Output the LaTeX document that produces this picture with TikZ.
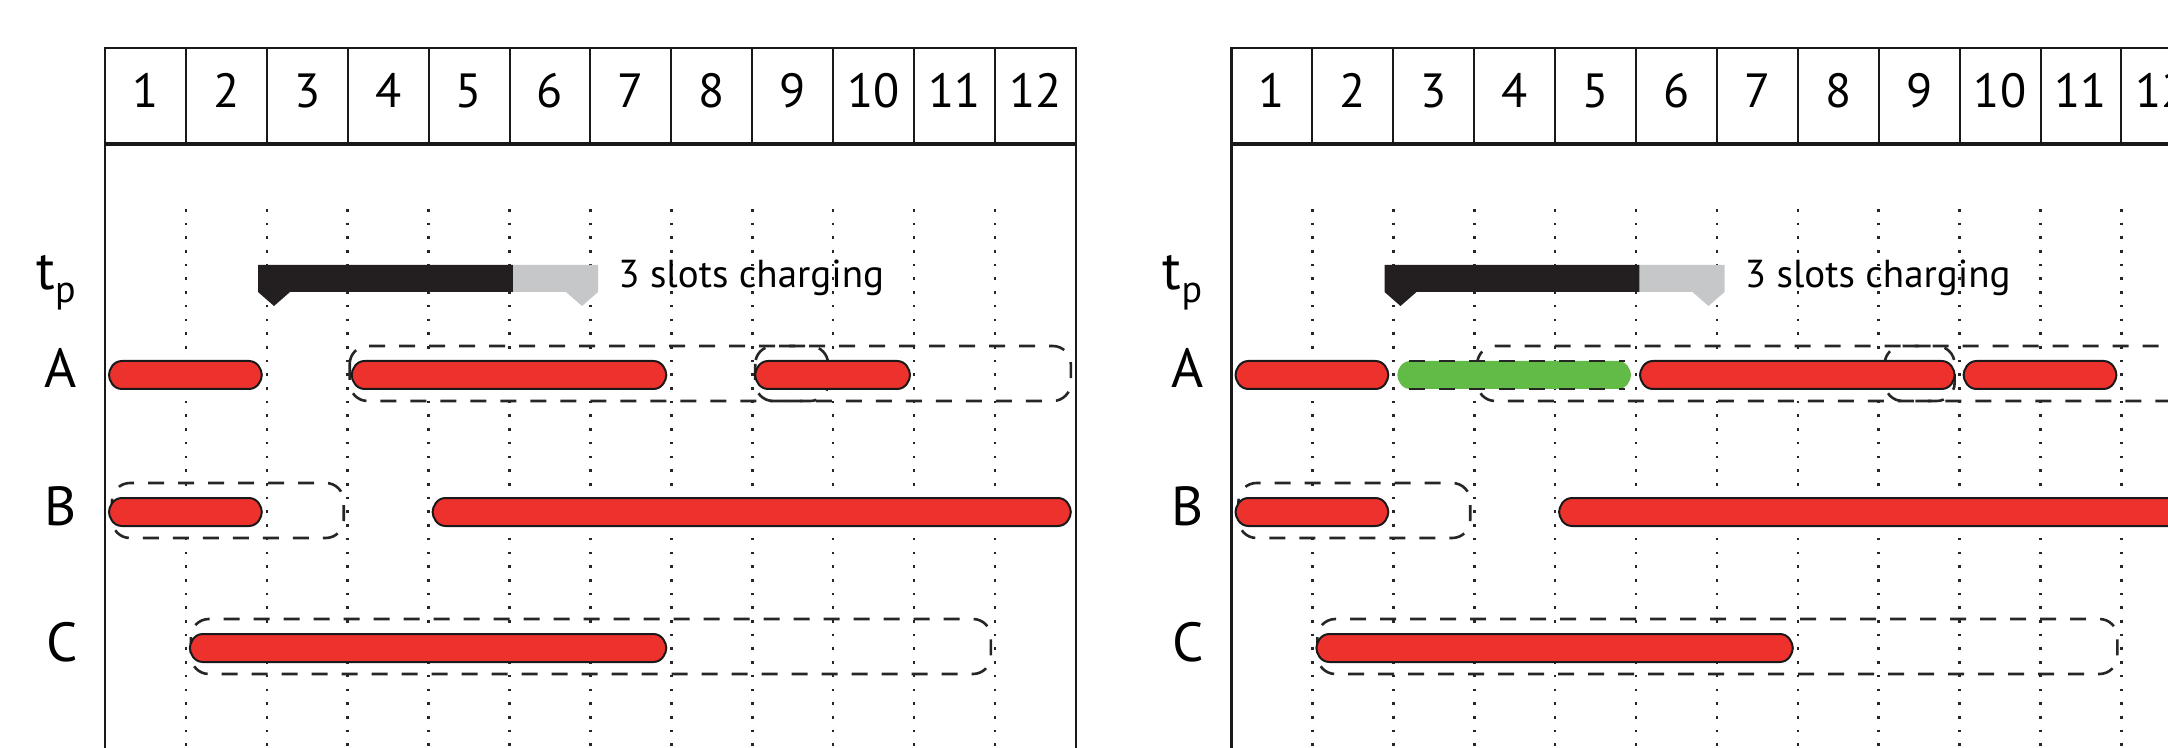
\documentclass[tikz,border=0pt]{standalone}
\usepackage{fontspec}
\setmainfont{PT Sans}
\definecolor{barred}{RGB}{237,50,46}
\definecolor{bargreen}{RGB}{98,187,70}
\definecolor{barblack}{RGB}{35,31,32}
\definecolor{bargray}{RGB}{198,199,200}
\newcommand\pill[4][barred]{%
  \pgfmathsetmacro\pa{#2}\pgfmathsetmacro\pb{#3}\pgfmathsetmacro\pc{#4}%
  \filldraw[pillstyle,fill=#1] ({\pa+13},{\pc-14}) -- ({\pb-13},{\pc-14})
    .. controls ({\pb-4},{\pc-14}) and (\pb,{\pc-5}) .. (\pb,\pc)
    .. controls (\pb,{\pc+5}) and ({\pb-4},{\pc+14}) .. ({\pb-13},{\pc+14})
    -- ({\pa+13},{\pc+14})
    .. controls ({\pa+4},{\pc+14}) and (\pa,{\pc+5}) .. (\pa,\pc)
    .. controls (\pa,{\pc-5}) and ({\pa+4},{\pc-14}) .. ({\pa+13},{\pc-14}) -- cycle;}
\newcommand\gpill[3]{%
  \pgfmathsetmacro\pa{#1}\pgfmathsetmacro\pb{#2}\pgfmathsetmacro\pc{#3}%
  \fill[bargreen] ({\pa+13},{\pc-14}) -- ({\pb-13},{\pc-14})
    .. controls ({\pb-4},{\pc-14}) and (\pb,{\pc-5}) .. (\pb,\pc)
    .. controls (\pb,{\pc+5}) and ({\pb-4},{\pc+14}) .. ({\pb-13},{\pc+14})
    -- ({\pa+13},{\pc+14})
    .. controls ({\pa+4},{\pc+14}) and (\pa,{\pc+5}) .. (\pa,\pc)
    .. controls (\pa,{\pc-5}) and ({\pa+4},{\pc-14}) .. ({\pa+13},{\pc-14}) -- cycle;
  \draw[gdash] ({\pa+12},{\pc-14}) -- ({\pb-6},{\pc-14});
  \draw[gdash] ({\pa+12},{\pc+14}) -- ({\pb-6},{\pc+14});}
\begin{document}
\begin{tikzpicture}[x=0.5pt,y=-0.5pt,
  frame/.style={line width=1.2pt, draw=black!90},
  hdr/.style={line width=1.7pt, draw=black!90},
  sep/.style={line width=1pt, draw=black!90},
  dots/.style={line width=1.3pt, dash pattern=on 1.3pt off 5.55pt, draw=black!85},
  dbox/.style={draw=black!85, line width=1.3pt, dash pattern=on 8pt off 7pt, rounded corners=9pt},
  gdash/.style={draw=black!85, line width=1.3pt, dash pattern=on 8pt off 7pt},
  pillstyle/.style={draw=black!90, line width=1pt},
  lab/.style={font=\fontsize{27.5}{30}\selectfont, anchor=base, inner sep=0pt},
  num/.style={font=\fontsize{24}{26}\selectfont, anchor=base, inner sep=0pt},
  note/.style={font=\fontsize{19.5}{21}\selectfont, anchor=base west, inner sep=0pt},
]
\useasboundingbox (0,0) rectangle (2168,748);
\clip (0,0) rectangle (2168,748);
\def\W{80.9}
\foreach \X/\P in {105/L,1231.5/R} {
  \foreach \k in {1,...,11} \draw[dots] ({\X+\k*\W},209) -- ({\X+\k*\W},748);
  \draw[frame] (\X,748) -- (\X,48) -- ({\X+12*\W},48) -- ({\X+12*\W},748);
  \draw[hdr] (\X,144) -- ({\X+12*\W},144);
  \foreach \k in {1,...,11} \draw[sep] ({\X+\k*\W},48) -- ({\X+\k*\W},144);
  \foreach \k in {1,...,12} \node[num] (num\P\k) at ({\X+(\k-0.5)*\W},108) {\k};
  \node[lab] (labA\P) at ({\X-44},388) {A};
  \node[lab] (labB\P) at ({\X-44},525) {B};
  \node[lab] (labC\P) at ({\X-43},661) {C};
  \node[anchor=base west, inner sep=0pt, font=\fontsize{27.5}{30}\selectfont] (tp\P) at ({\X-69},290)
    {t\raisebox{-6.5pt}{\fontsize{19}{20}\selectfont p}};
  \fill[barblack] ({\X+153},265) -- ({\X+408},265) -- ({\X+408},292) -- ({\X+185},292) -- ({\X+169},306) -- ({\X+153},292) -- cycle;
  \fill[bargray] ({\X+408},265) -- ({\X+493},265) -- ({\X+493},292) -- ({\X+477},306) -- ({\X+461},292) -- ({\X+408},292) -- cycle;
  \node[note] (txt\P) at ({\X+513},288) {3 slots charging};
  \draw[dbox] ({\X+7},483) rectangle ({\X+3*\W-4},538);
  \pill{\X+4}{\X+2*\W-5}{512}
  \pill{\X+4*\W+4}{\X+12*\W-5}{512}
  \draw[dbox] ({\X+\W+5},619) rectangle ({\X+11*\W-4},674);
  \pill{\X+\W+4}{\X+7*\W-5}{648}
  \pill{\X+4}{\X+2*\W-5}{375}
}
% left panel, row A
\def\X{105}
\draw[dbox] ({\X+3*\W+2},346) rectangle ({\X+9*\W-5},401);
\draw[dbox] ({\X+8*\W+3},346) rectangle ({\X+12*\W-5},401);
\pill{\X+3*\W+4}{\X+7*\W-5}{375}
\pill{\X+8*\W+3}{\X+10*\W-4}{375}
% right panel, row A
\def\X{1231.5}
\draw[dbox] ({\X+3*\W+3},346) rectangle ({\X+9*\W-5},401);
\draw[dbox] ({\X+8*\W+6},346) rectangle ({\X+12*\W-5},401);
\gpill{\X+2*\W+4}{\X+5*\W-5}{375}
\pill{\X+5*\W+4}{\X+9*\W-5}{375}
\pill{\X+9*\W+4}{\X+11*\W-5}{375}
\end{tikzpicture}
\end{document}
